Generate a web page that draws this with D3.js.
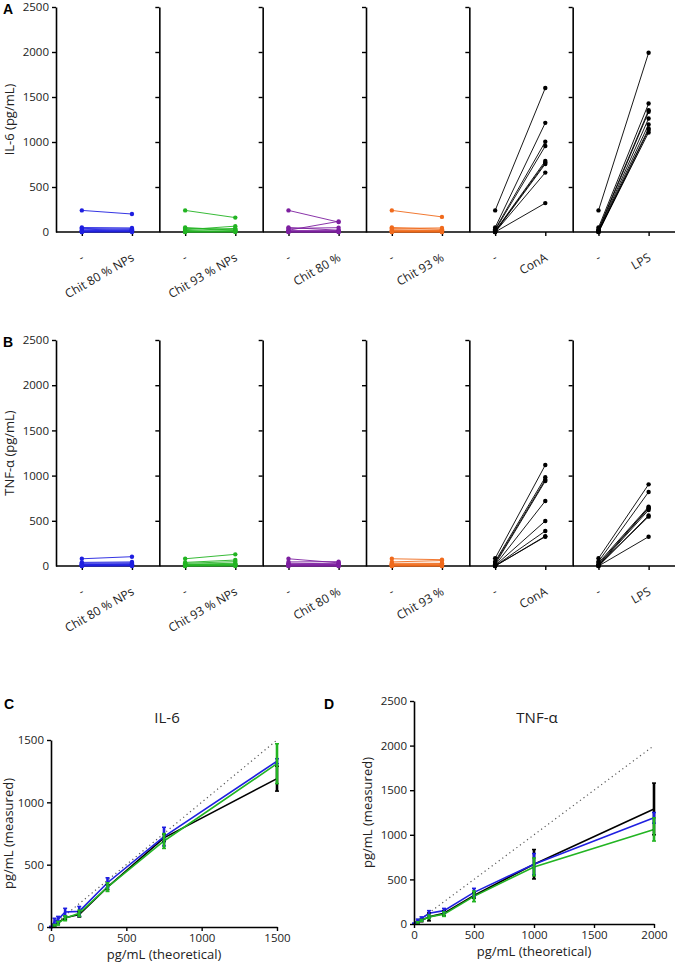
<!DOCTYPE html>
<html><head><meta charset="utf-8">
<script src="https://cdn.jsdelivr.net/npm/d3@7"></script>
<style>
body{margin:0;background:#fff;}
text{font-family:"Open Sans","Noto Sans",sans-serif;fill:#222;}
.lab{font-family:"Liberation Sans",Arial,sans-serif;font-weight:bold;fill:#000;}
</style></head>
<body><svg id="c" width="675" height="967"></svg>
<script>
// ---------- DATA ----------
const groups = ["Chit 80 % NPs", "Chit 93 % NPs", "Chit 80 %", "Chit 93 %", "ConA", "LPS"];
const groupLabelsA = ["Chit 80 %  NPs", "Chit 93 % NPs", "Chit 80 %", "Chit 93 %", "ConA", "LPS"];
const groupColors = ["#1f1fe0", "#22b422", "#7d1fa0", "#f06a1c", "#000000", "#000000"];
const yTicksAB = [0, 500, 1000, 1500, 2000, 2500];

// IL-6 (panel A): control "-" and treatment per donor
const il6Ctrl = [
  [240, 50, 40, 25, 15, 10, 5, 0, 0],
  [240, 50, 40, 25, 15, 10, 5, 0, 0],
  [240, 50, 40, 20, 15, 10, 5, 0, 0],
  [240, 50, 40, 25, 15, 10, 5, 0, 0],
  [240, 50, 30, 20, 10, 5, 0, 0, 0],
  [240, 50, 30, 20, 10, 5, 0, 0, 0]
];
const il6Trt = [
  [200, 45, 30, 35, 20, 10, 15, 5, 0],
  [160, 20, 30, 65, 40, 10, 15, 5, 0],
  [110, 20, 48, 118, 15, 10, 5, 0, 0],
  [168, 30, 45, 20, 15, 10, 5, 0, 0],
  [1600, 1213, 1003, 955, 789, 771, 756, 660, 321],
  [1991, 1427, 1353, 1335, 1261, 1195, 1150, 1132, 1106]
];
// TNF-alpha (panel B)
const tnfCtrl = [
  [80, 40, 30, 20, 15, 10, 5, 0, 0],
  [80, 40, 30, 20, 15, 10, 5, 0, 0],
  [80, 45, 30, 20, 15, 10, 5, 0, 0],
  [80, 45, 30, 20, 15, 10, 5, 0, 0],
  [85, 50, 35, 20, 10, 5, 0, 0, 0],
  [85, 50, 35, 20, 10, 5, 0, 0, 0]
];
const tnfTrt = [
  [103, 45, 35, 25, 20, 15, 10, 5, 0],
  [129, 66, 48, 30, 20, 15, 10, 5, 0],
  [35, 48, 25, 20, 15, 10, 5, 0, 0],
  [70, 60, 30, 25, 15, 10, 5, 0, 0],
  [1117, 981, 955, 940, 719, 498, 387, 324, 330],
  [903, 819, 656, 645, 638, 546, 560, 324, 620]
];

// Panel C: IL-6 standard recovery
const il6Theo = [0, 23.4, 46.9, 93.75, 187.5, 375, 750, 1500];
const il6Black = [0, 10, 35, 75, 100, 320, 715, 1190];
const il6BlackSd = [0, 10, 10, 15, 20, 20, 30, 100];
const il6Blue = [0, 45, 60, 120, 125, 355, 725, 1330];
const il6BlueSd = [5, 25, 25, 30, 40, 40, 75, 20];
const il6Green = [0, 10, 30, 70, 110, 320, 690, 1310];
const il6GreenSd = [0, 10, 15, 20, 25, 35, 60, 160];
const cTicks = [0, 500, 1000, 1500];

// Panel D: TNF-alpha standard recovery
const tnfTheo = [0, 31.25, 62.5, 125, 250, 500, 1000, 2000];
const tnfBlack = [0, 20, 40, 80, 120, 320, 670, 1290];
const tnfBlackSd = [0, 10, 15, 45, 30, 30, 165, 290];
const tnfBlue = [5, 40, 60, 120, 150, 355, 670, 1190];
const tnfBlueSd = [5, 15, 20, 30, 25, 45, 120, 60];
const tnfGreen = [0, 15, 40, 80, 110, 310, 640, 1060];
const tnfGreenSd = [0, 10, 10, 20, 25, 60, 100, 130];
const dxTicks = [0, 500, 1000, 1500, 2000];
const dyTicks = [0, 500, 1000, 1500, 2000, 2500];
const lineColors = ["#000000", "#1f1fe0", "#22b422"];

// ---------- DRAW ----------
const svg = d3.select("#c");

function styleAxis(g) {
  g.selectAll(".domain").attr("stroke", "#000").attr("stroke-width", 1.6);
  g.selectAll(".tick line").attr("stroke", "#000").attr("stroke-width", 1.4);
  g.selectAll(".tick text").style("font-size", "11px").attr("fill", "#222");
}

function pairedPanel(top, bottom, ctrl, trt, yTitle, letter, labels) {
  const y = d3.scaleLinear().domain([0, 2500]).range([bottom, top]);
  const band = d3.scaleBand().domain(groups).range([56, 676]).paddingInner(0).paddingOuter(0);
  const g = svg.append("g");
  groups.forEach((grp, i) => {
    const x0 = band(grp);
    const bw = band.bandwidth();
    const x = d3.scalePoint().domain(["-", labels[i]]).range([x0 + bw * 0.25, x0 + bw * 0.735]);
    const sub = g.append("g");
    const xb = d3.scaleLinear().domain([0, 1]).range([x0, x0 + bw]);
    sub.append("line").attr("x1", xb(0)).attr("x2", xb(1)).attr("y1", y(0)).attr("y2", y(0))
      .attr("stroke", "#000").attr("stroke-width", 1.6);
    const ax = sub.append("g").attr("transform", `translate(0,${y(0)})`)
      .call(d3.axisBottom(x).tickSize(4).tickSizeOuter(0).tickFormat(""));
    ax.select(".domain").remove();
    styleAxis(ax);
    // rotated category labels
    x.domain().forEach(cat => {
      sub.append("text")
        .attr("transform", `translate(${x(cat) + 3},${y(0) + 28}) rotate(-30)`)
        .attr("text-anchor", "end")
        .style("font-size", "12px")
        .text(cat);
    });
    const ay = sub.append("g").attr("transform", `translate(${x0},0)`)
      .call(d3.axisLeft(y).tickValues(yTicksAB).tickSize(4).tickSizeOuter(0)
        .tickFormat(i === 0 ? d3.format("d") : () => ""));
    styleAxis(ay);
    ay.selectAll(".tick text").style("font-size", "11.5px");
    ay.selectAll(".tick line").filter(d => d === 0).remove();
    const col = groupColors[i];
    const pairs = ctrl[i].map((c, k) => [c, trt[i][k]]);
    sub.selectAll("line.d").data(pairs).enter().append("line").attr("class", "d")
      .attr("x1", x("-")).attr("x2", x(labels[i]))
      .attr("y1", d => y(d[0])).attr("y2", d => y(d[1]))
      .attr("stroke", col).attr("stroke-width", 1).attr("stroke-opacity", 0.9);
    pairs.forEach(p => {
      sub.append("circle").attr("cx", x("-")).attr("cy", y(p[0])).attr("r", 2.2).attr("fill", col);
      sub.append("circle").attr("cx", x(labels[i])).attr("cy", y(p[1])).attr("r", 2.2).attr("fill", col);
    });
  });
  svg.append("text").attr("transform", `translate(14,${(top + bottom) / 2}) rotate(-90)`)
    .attr("text-anchor", "middle").style("font-size", "13px").text(yTitle);
  svg.append("text").attr("class", "lab").attr("x", 3).attr("y", top + 7)
    .style("font-size", "14px").text(letter);
}

pairedPanel(7, 232, il6Ctrl, il6Trt, "IL-6 (pg/mL)", "A", groupLabelsA);
pairedPanel(340, 566, tnfCtrl, tnfTrt, "TNF-\u03b1 (pg/mL)", "B", groups);

function curvePanel(xr, yr, xMax, yMax, xTicks, yTicks, theo, series, sds, title, titlePos, letter, letterPos, yLabX) {
  const x = d3.scaleLinear().domain([0, xMax]).range(xr);
  const y = d3.scaleLinear().domain([0, yMax]).range(yr);
  const g = svg.append("g");
  g.append("line").attr("x1", x(0)).attr("y1", y(0)).attr("x2", x(xMax)).attr("y2", y(xMax))
    .attr("stroke", "#555").attr("stroke-width", 1.2).attr("stroke-dasharray", "1.2,3.2");
  const line = d3.line().x((d, i) => x(theo[i])).y(d => y(d));
  series.forEach((s, si) => {
    g.append("path").datum(s).attr("d", line).attr("fill", "none")
      .attr("stroke", lineColors[si]).attr("stroke-width", 1.6);
  });
  series.forEach((s, si) => {
    s.forEach((v, k) => {
      const sd = sds[si][k];
      if (sd <= 0) return;
      const cx = x(theo[k]);
      g.append("line").attr("x1", cx).attr("x2", cx).attr("y1", y(v - sd)).attr("y2", y(v + sd))
        .attr("stroke", lineColors[si]).attr("stroke-width", 2.6);
      [v - sd, v + sd].forEach(e => {
        g.append("line").attr("x1", cx - 2).attr("x2", cx + 2).attr("y1", y(e)).attr("y2", y(e))
          .attr("stroke", lineColors[si]).attr("stroke-width", 1.5);
      });
    });
  });
  const ax = svg.append("g").attr("transform", `translate(0,${yr[0]})`)
    .call(d3.axisBottom(x).tickValues(xTicks).tickSize(4).tickSizeOuter(0).tickFormat(d3.format("d")));
  styleAxis(ax);
  ax.selectAll(".tick text").style("font-size", "11.5px");
  const ay = svg.append("g").attr("transform", `translate(${xr[0]},0)`)
    .call(d3.axisLeft(y).tickValues(yTicks).tickSize(4).tickSizeOuter(0).tickFormat(d3.format("d")));
  styleAxis(ay);
  ay.selectAll(".tick text").style("font-size", "11.5px");
  svg.append("text").attr("x", (xr[0] + xr[1]) / 2).attr("y", yr[0] + 32).attr("text-anchor", "middle")
    .style("font-size", "13px").text("pg/mL (theoretical)");
  svg.append("text").attr("transform", `translate(${yLabX},${(yr[0] + yr[1]) / 2}) rotate(-90)`)
    .attr("text-anchor", "middle").style("font-size", "13px").text("pg/mL (measured)");
  svg.append("text").attr("x", titlePos[0]).attr("y", titlePos[1]).attr("text-anchor", "middle")
    .style("font-size", "15px").text(title);
  svg.append("text").attr("class", "lab").attr("x", letterPos[0]).attr("y", letterPos[1])
    .style("font-size", "14px").text(letter);
}

curvePanel([51, 277], [927, 740], 1500, 1500, cTicks, cTicks, il6Theo,
  [il6Black, il6Blue, il6Green], [il6BlackSd, il6BlueSd, il6GreenSd],
  "IL-6", [167, 723], "C", [4, 709], 13);
curvePanel([414, 654], [924, 701], 2000, 2500, dxTicks, dyTicks, tnfTheo,
  [tnfBlack, tnfBlue, tnfGreen], [tnfBlackSd, tnfBlueSd, tnfGreenSd],
  "TNF-\u03b1", [537, 723], "D", [324, 709], 372);
</script></body></html>
